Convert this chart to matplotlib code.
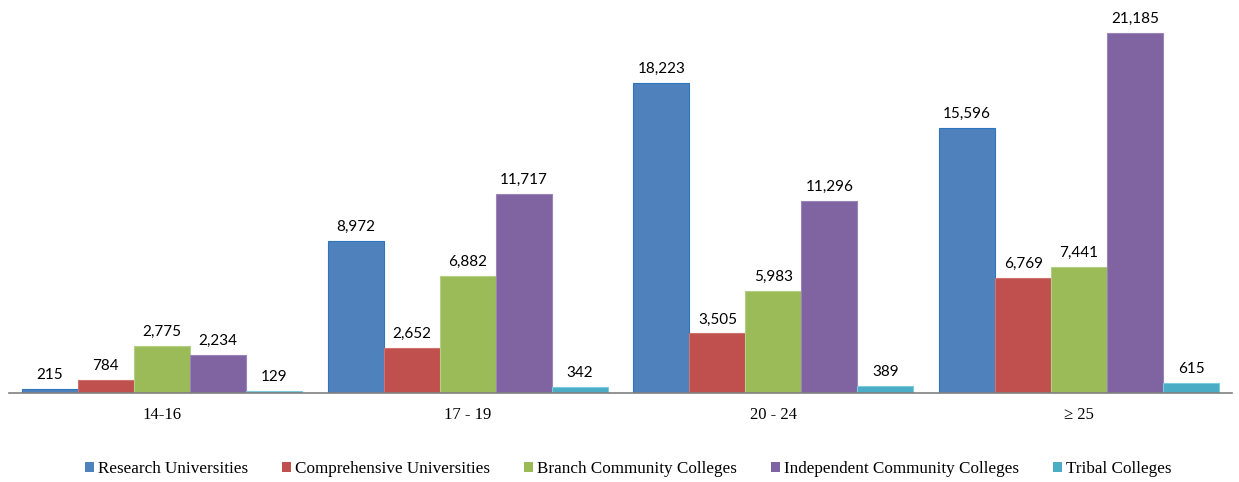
import numpy as np
import matplotlib.pyplot as plt
from matplotlib.patches import Patch

categories = ["14-16", "17 - 19", "20 - 24", "\u2265 25"]
series_names = ["Research Universities", "Comprehensive Universities",
                "Branch Community Colleges", "Independent Community Colleges",
                "Tribal Colleges"]
research = [215, 8972, 18223, 15596]
comprehensive = [784, 2652, 3505, 6769]
branch = [2775, 6882, 5983, 7441]
independent = [2234, 11717, 11296, 21185]
tribal = [129, 342, 389, 615]

series = [research, comprehensive, branch, independent, tribal]
colors = ["#4F81BD", "#C0504D", "#9BBB59", "#8064A2", "#4BACC6"]
edges = ["#2E75C0", "#D07270", "#B4CF85", "#9A84B8", "#7CCBDD"]

W, H = 1239, 482
fig = plt.figure(figsize=(W / 100, H / 100), dpi=100)
ax = fig.add_axes([9 / W, (H - 393) / H, (1232 - 9) / W, 393 / H])

x = np.arange(len(categories))
bw = 56 / 306
for i, (vals, c, ec) in enumerate(zip(series, colors, edges)):
    pos = x + (i - 2) * bw
    ax.bar(pos, vals, width=bw, color=c, edgecolor=ec, linewidth=0.8, zorder=2)
    for p, v in zip(pos, vals):
        ax.annotate(f"{v:,}", (p, v), xytext=(0, 5), textcoords="offset points",
                    ha="center", va="bottom", fontsize=11, family="Lato")

ax.set_xlim(-0.5, 3.5)
ax.set_ylim(0, 393 / (360 / 21185))
for s in ["top", "right", "left"]:
    ax.spines[s].set_visible(False)
ax.spines["bottom"].set_color("#808080")
ax.spines["bottom"].set_linewidth(1.2)
ax.spines["bottom"].set_zorder(3)
ax.set_yticks([])
ax.set_xticks(x)
ax.set_xticklabels(categories, family="Liberation Serif", fontsize=12)
ax.tick_params(axis="x", length=0, pad=10)

handles = [Patch(facecolor=c, edgecolor="none") for c in colors]
fig.legend(handles, series_names, loc="center", bbox_to_anchor=(628 / W, 1 - 469 / H),
           ncol=5, frameon=False, prop={"family": "Liberation Serif", "size": 12.3},
           handlelength=0.55, handleheight=0.55, handletextpad=0.2, columnspacing=2.0)

fig.savefig("out.png", dpi=100)
